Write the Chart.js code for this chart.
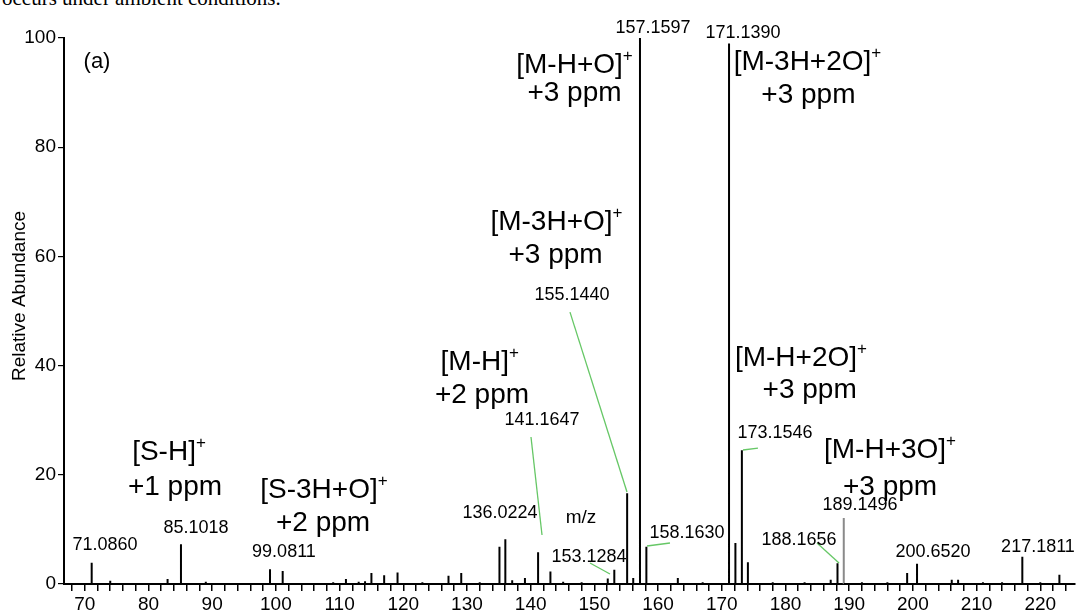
<!DOCTYPE html>
<html>
<head>
<meta charset="utf-8">
<script src="https://cdn.jsdelivr.net/npm/chart.js@4.4.1/dist/chart.umd.min.js"></script>
<style>
  body { margin: 0; background: #fff; }
  #wrap { position: relative; width: 1083px; height: 613px; overflow: hidden; background: #fff; }
  #cut { position: absolute; left: 2px; top: -12px; font: 21px/20px "Liberation Serif", serif; color: #000; white-space: nowrap; }
  canvas { position: absolute; left: 0; top: 0; }
</style>
</head>
<body>
<div id="wrap">
  <div id="cut">occurs under ambient conditions.</div>
  <canvas id="spectre" width="1083" height="613"></canvas>
</div>
<script>
/* pics du spectre : m/z et abondance relative */
const mz = [
  71.0860, 74.0, 76.0, 79.0, 83.0, 85.1018, 89.0, 93.0, 97.0,
  99.0811, 101.07, 105.0, 109.0, 111.0, 113.0, 114.0, 115.0, 117.0, 119.1,
  123.0, 127.1, 129.1, 132.0, 135.1, 136.0224, 137.1, 139.1, 141.1647, 143.1,
  145.1, 148.0, 152.1, 153.1284, 155.1440, 156.1, 157.1597, 158.1630, 163.1,
  167.0, 171.1390, 172.14, 173.1546, 174.1, 178.0, 183.0, 187.1, 188.1656,
  189.1496, 192.0, 196.0, 199.1, 200.6520, 206.1, 207.1, 211.0, 214.0,
  217.1811, 220.0, 223.0
];
const intensity = [
  3.9, 0.6, 0.2, 0.2, 0.9, 7.3, 0.4, 0.2, 0.2,
  2.7, 2.4, 0.2, 0.3, 0.9, 0.4, 0.5, 2.0, 1.6, 2.1,
  0.3, 1.5, 2.0, 0.3, 6.8, 8.2, 0.7, 1.1, 5.8, 2.3,
  0.4, 0.3, 1.0, 2.6, 16.6, 1.1, 100, 6.8, 1.1,
  0.3, 99, 7.5, 24.5, 4.0, 0.3, 0.3, 0.8, 3.8,
  12.1, 0.3, 0.3, 2.0, 3.7, 0.8, 0.8, 0.3, 0.3,
  5.0, 0.3, 1.7
];
const grayPeak = 189.1496;

const xMin = 66.74;
const xMax = 225.45;
const yTicks = [0, 20, 40, 60, 80, 100];

/* étiquettes des pics : texte, m/z, abondance */
const peakTags = [
  ["71.0860", 73.17, 7.14],
  ["85.1018", 87.46, 10.26],
  ["99.0811", 101.27, 5.86],
  ["136.0224", 135.18, 13.0],
  ["141.1647", 141.78, 30.04],
  ["153.1284", 149.15, 4.95],
  ["155.1440", 146.48, 52.93],
  ["157.1597", 159.2, 101.8],
  ["171.1390", 173.33, 100.9],
  ["158.1630", 164.54, 9.34],
  ["173.1546", 178.35, 27.66],
  ["188.1656", 182.12, 8.06],
  ["189.1496", 191.7, 14.47],
  ["200.6520", 203.16, 5.86],
  ["217.1811", 219.64, 6.78]
];

/* ions attribués : formule, écart, m/z ligne 1, abondance ligne 1, m/z ligne 2, abondance ligne 2 */
const ionTags = [
  ["[M-H+O]", "+3 ppm", 146.88, 95.05, 146.88, 89.93],
  ["[M-3H+O]", "+3 ppm", 144.05, 66.3, 143.9, 60.26],
  ["[M-3H+2O]", "+3 ppm", 183.45, 95.6, 183.6, 89.56],
  ["[M-H]", "+2 ppm", 132.0, 40.66, 132.36, 34.6],
  ["[M-H+2O]", "+3 ppm", 182.43, 41.4, 183.8, 35.5],
  ["[M-H+3O]", "+3 ppm", 196.41, 24.54, 196.41, 17.77],
  ["[S-H]", "+1 ppm", 83.22, 24.18, 84.16, 17.77],
  ["[S-3H+O]", "+2 ppm", 107.55, 17.2, 107.4, 11.17]
];

/* traits verts reliant étiquette et pic */
const leaders = [
  [140.05, 26.92, 141.78, 8.97],
  [146.17, 49.8, 155.12, 16.85],
  [149.31, 3.85, 152.45, 1.83],
  [158.26, 6.96, 161.87, 7.51],
  [173.33, 24.54, 175.68, 24.9],
  [184.95, 7.5, 188.4, 3.85]
];

const FONT = '"Liberation Sans", Arial, sans-serif';

// spectre en bâtons : chaque pic monte puis redescend à zéro
const sticks = [{ x: xMin, y: 0 }];
mz.forEach((m, i) => {
  sticks.push({ x: m, y: 0 }, { x: m, y: intensity[i] }, { x: m, y: 0 });
});
sticks.push({ x: xMax, y: 0 });

const annotations = {
  id: "annotations",
  afterDraw(chart) {
    const { ctx, scales: { x, y } } = chart;
    ctx.save();

    ctx.strokeStyle = "#66c766";
    ctx.lineWidth = 1.3;
    leaders.forEach(([m1, v1, m2, v2]) => {
      ctx.beginPath();
      ctx.moveTo(x.getPixelForValue(m1), y.getPixelForValue(v1));
      ctx.lineTo(x.getPixelForValue(m2), y.getPixelForValue(v2));
      ctx.stroke();
    });

    ctx.fillStyle = "#000";
    ctx.textBaseline = "middle";
    ctx.textAlign = "center";
    ctx.font = "18px " + FONT;
    peakTags.forEach(([t, m, v]) => {
      ctx.fillText(t, x.getPixelForValue(m), y.getPixelForValue(v));
    });

    ctx.font = "19px " + FONT;
    ctx.fillText("m/z", x.getPixelForValue(147.9), y.getPixelForValue(12.09));

    ctx.font = "22px " + FONT;
    ctx.fillText("(a)", x.getPixelForValue(71.92), y.getPixelForValue(95.6));

    ionTags.forEach(([ion, ppm, m1, v1, m2, v2]) => {
      ctx.font = "28px " + FONT;
      const w = ctx.measureText(ion).width;
      ctx.font = "17px " + FONT;
      const ws = ctx.measureText("+").width;
      const x0 = x.getPixelForValue(m1) - (w + ws) / 2;
      const y1 = y.getPixelForValue(v1);
      ctx.textAlign = "left";
      ctx.fillText("+", x0 + w, y1 - 9);
      ctx.font = "28px " + FONT;
      ctx.fillText(ion, x0, y1);
      ctx.textAlign = "center";
      ctx.fillText(ppm, x.getPixelForValue(m2), y.getPixelForValue(v2));
    });

    // titre de l'axe vertical
    ctx.font = "19px " + FONT;
    ctx.translate(20, 296);
    ctx.rotate(-Math.PI / 2);
    ctx.fillText("Relative Abundance", 0, 0);
    ctx.restore();
  }
};

new Chart(document.getElementById("spectre"), {
  type: "line",
  data: {
    datasets: [
      {
        data: sticks,
        borderColor: "#000",
        borderWidth: 2,
        pointRadius: 0,
        tension: 0,
        fill: false,
        segment: {
          borderColor: (c) =>
            c.p0.parsed.x === grayPeak && c.p1.parsed.x === grayPeak ? "#8a8a8a" : "#000"
        }
      }
    ]
  },
  options: {
    responsive: false,
    animation: false,
    events: [],
    layout: { padding: { top: 38, right: 8, left: 0, bottom: 0 } },
    plugins: { legend: { display: false }, tooltip: { enabled: false } },
    scales: {
      x: {
        type: "linear",
        min: xMin,
        max: xMax,
        afterFit: (s) => { s.height = 29; },
        border: { color: "#000", width: 2 },
        grid: { drawOnChartArea: false, tickLength: 7, color: "#000", lineWidth: 1.5 },
        ticks: {
          stepSize: 2,
          includeBounds: false,
          autoSkip: false,
          maxRotation: 0,
          padding: 2,
          color: "#000",
          font: { family: FONT, size: 19 },
          callback: (v) => (v % 10 === 0 ? v : "")
        }
      },
      y: {
        min: 0,
        max: 100,
        afterFit: (s) => { s.width = 64; },
        afterBuildTicks: (s) => { s.ticks = yTicks.map((v) => ({ value: v })); },
        border: { color: "#000", width: 2 },
        grid: { drawOnChartArea: false, tickLength: 6, color: "#000", lineWidth: 1.2 },
        ticks: {
          padding: 2,
          color: "#000",
          font: { family: FONT, size: 19 }
        }
      }
    }
  },
  plugins: [annotations]
});
</script>
</body>
</html>
